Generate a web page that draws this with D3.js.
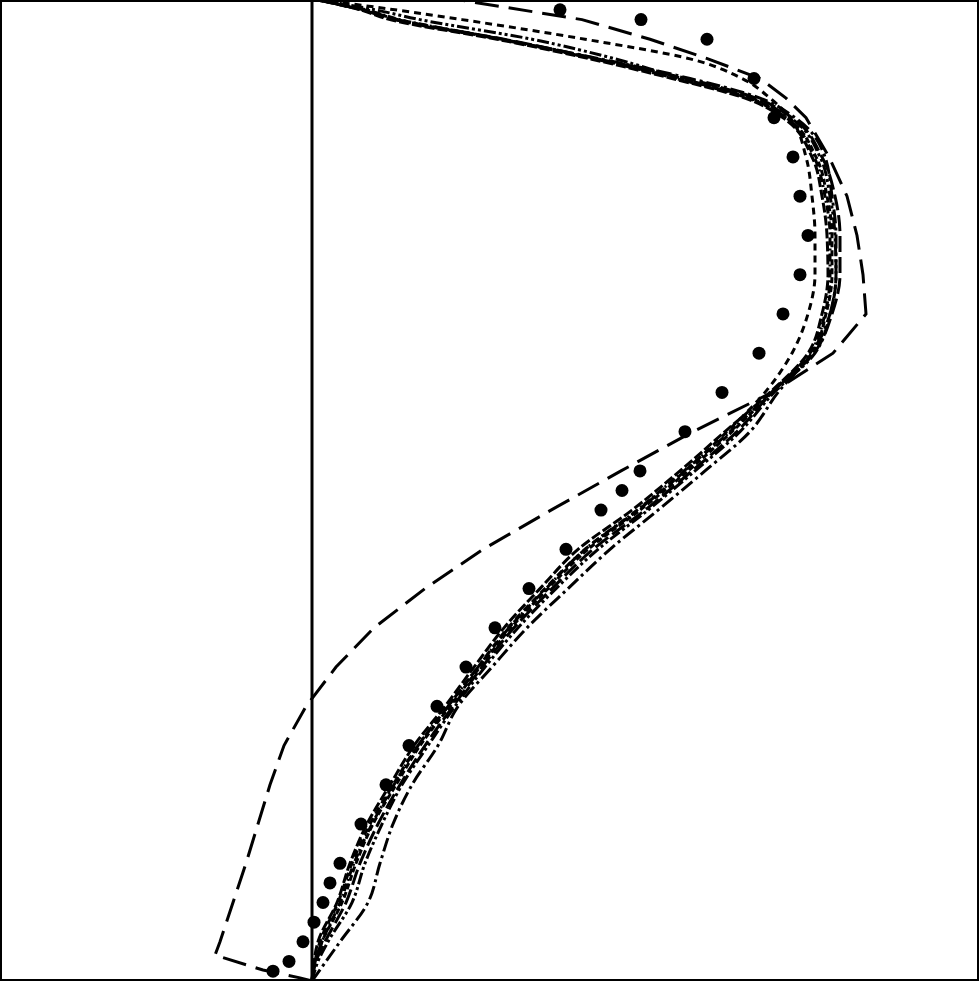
<!DOCTYPE html>
<html>
<head>
<meta charset="utf-8">
<script src="https://cdn.jsdelivr.net/npm/d3@7"></script>
<style>
html,body{margin:0;padding:0;background:#fff;}
svg{display:block;}
</style>
</head>
<body>
<svg id="chart" width="979" height="981"></svg>
<script>
// Wall-normal positions (y) and velocity ratios (u)
const levels = [0,0.5,1,2,3,4,5,6,7,8,9,10,11,12,13,14,15,16,17,18,19,20,21,22,22.5,23,23.5,24,24.5,24.75,25];

const seriesA = [0,0.004,0.012,0.05,0.076,0.11,0.156,0.204,0.266,0.324,0.384,0.456,0.532,0.64,0.736,0.826,0.916,0.992,1.02,1.032,1.03,1.02,1.0,0.942,0.866,0.72,0.556,0.37,0.156,0.096,0.012];
const seriesB = [0,0.006,0.02,0.06,0.088,0.122,0.168,0.216,0.276,0.336,0.398,0.472,0.552,0.656,0.752,0.84,0.92,1.0,1.028,1.04,1.04,1.03,1.008,0.948,0.872,0.728,0.564,0.376,0.166,0.1,0.012];
const seriesC = [0,0.006,0.016,0.052,0.08,0.116,0.162,0.212,0.272,0.332,0.392,0.466,0.546,0.652,0.746,0.83,0.906,0.96,0.992,1.006,1.006,1.0,0.988,0.956,0.916,0.86,0.756,0.546,0.3,0.166,0.02];
const seriesD = [0,0.028,0.056,0.112,0.136,0.162,0.2,0.252,0.292,0.36,0.43,0.512,0.596,0.692,0.786,0.876,0.932,1.0,1.036,1.048,1.048,1.04,1.026,0.966,0.896,0.756,0.576,0.38,0.166,0.1,0.012];
const seriesE = [0,0.012,0.032,0.08,0.106,0.14,0.18,0.232,0.286,0.346,0.412,0.488,0.572,0.672,0.766,0.856,0.924,1.006,1.036,1.048,1.046,1.036,1.016,0.956,0.88,0.74,0.606,0.44,0.216,0.126,0.016];
const seriesF = [0,0.008,0.026,0.068,0.096,0.132,0.176,0.226,0.282,0.34,0.404,0.48,0.562,0.666,0.76,0.85,0.92,1.004,1.04,1.056,1.056,1.046,1.02,0.96,0.888,0.748,0.572,0.384,0.172,0.104,0.012];
const seriesG = [0,0.006,0.02,0.056,0.084,0.12,0.164,0.212,0.272,0.332,0.394,0.468,0.546,0.65,0.744,0.836,0.918,0.996,1.026,1.036,1.036,1.026,1.004,0.948,0.876,0.732,0.568,0.38,0.176,0.108,0.014];

// Coarse profile (long dashes)
const coarseLevels = [0,0.08,0.28,0.66,1,2,3,4,5,6,7,8,9,10,11,12,13,14,15,16,17,18,19,20,21,22,22.5,23,23.5,24,24.5,25];
const coarseU = [0,-0.024,-0.098,-0.194,-0.184,-0.158,-0.132,-0.108,-0.084,-0.056,-0.012,0.048,0.124,0.226,0.342,0.478,0.618,0.762,0.92,1.042,1.108,1.102,1.09,1.07,1.034,0.988,0.948,0.896,0.792,0.676,0.54,0.296];

// Measured points
const dotY = [24.75,24.5,24,23,22,21,20,19,18,17,16,15,14,13,12.5,12,11,10,9,8,7,6,5,4,3,2.5,2,1.5,1,0.5,0.25];
const dotU = [0.496,0.658,0.79,0.884,0.924,0.962,0.976,0.992,0.976,0.942,0.894,0.82,0.746,0.656,0.62,0.578,0.508,0.434,0.366,0.308,0.25,0.194,0.148,0.098,0.056,0.036,0.022,0.004,-0.018,-0.046,-0.078];

const W = 979, H = 981;
const svg = d3.select('#chart');
const x = d3.scaleLinear().domain([-0.624, 1.334]).range([0, W]);
const y = d3.scaleLinear().domain([0, 25]).range([H, 0]);

const curves = [
  {u: seriesA, dash: '10,3'},
  {u: seriesB, dash: '6,3'},
  {u: seriesC, dash: '7,5'},
  {u: seriesD, dash: '14,4,3,4'},
  {u: seriesE, dash: '12,3,3,3,3,3'},
  {u: seriesF, dash: '16,5'},
  {u: seriesG, dash: '8,3,2,3'}
];

const line = d3.line().x(d => x(d[0])).y(d => y(d[1])).curve(d3.curveMonotoneY);

// zero line
svg.append('line')
  .attr('x1', x(0)).attr('x2', x(0))
  .attr('y1', y(0)).attr('y2', y(25))
  .attr('stroke', '#000').attr('stroke-width', 3);

curves.forEach(c => {
  const pts = levels.map((lv, i) => [c.u[i], lv]);
  svg.append('path')
    .attr('d', line(pts))
    .attr('fill', 'none')
    .attr('stroke', '#000')
    .attr('stroke-width', 3)
    .attr('stroke-dasharray', c.dash);
});

const lineLin = d3.line().x(d => x(d[0])).y(d => y(d[1]));
svg.append('path')
  .attr('d', lineLin(coarseLevels.map((lv, i) => [coarseU[i], lv])))
  .attr('fill', 'none')
  .attr('stroke', '#000')
  .attr('stroke-width', 3)
  .attr('stroke-dasharray', '24,10');

svg.selectAll('circle.pt')
  .data(dotY.map((v, i) => [dotU[i], v]))
  .join('circle')
  .attr('class', 'pt')
  .attr('cx', d => x(d[0]))
  .attr('cy', d => y(d[1]))
  .attr('r', 6.5)
  .attr('fill', '#000');

// frame
svg.append('rect')
  .attr('x', 1).attr('y', 1).attr('width', W - 2).attr('height', H - 2)
  .attr('fill', 'none').attr('stroke', '#000').attr('stroke-width', 2);
</script>
</body>
</html>
